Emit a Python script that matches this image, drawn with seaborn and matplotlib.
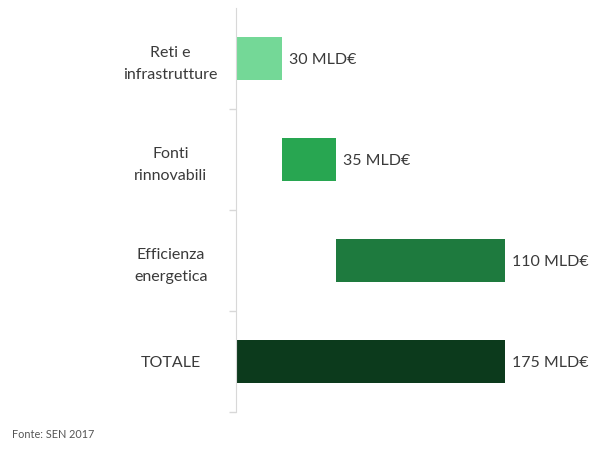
import numpy as np
import pandas as pd
import seaborn as sns
import matplotlib.pyplot as plt

# Dati (miliardi di euro)
categorie = ['Reti e\ninfrastrutture', 'Fonti\nrinnovabili', 'Efficienza\nenergetica', 'TOTALE']
valori = [30, 35, 110, 175]
etichette = ['30 MLD€', '35 MLD€', '110 MLD€', '175 MLD€']
colori = ['#74d897', '#28a651', '#1e7a3e', '#0c3a1c']

# inizio di ogni barra (cascata), il totale parte da zero
inizi = list(np.cumsum([0] + valori[:2])) + [0]

df = pd.DataFrame({'Categoria': categorie, 'Valore': valori, 'Inizio': inizi})

sns.set_style('white')
plt.rcParams['font.family'] = ['Lato', 'DejaVu Sans']

fig = plt.figure(figsize=(5.93, 4.54), dpi=100)
ax = fig.add_axes([0.398, 0.0925, 0.596, 0.89])

sns.barplot(data=df, x='Valore', y='Categoria', hue='Categoria', palette=colori,
            legend=False, width=0.42, saturation=1, ax=ax)

# sposta le barre per ottenere la cascata
for patch, start, val in zip(ax.patches, df['Inizio'], df['Valore']):
    patch.set_x(start)
    patch.set_width(val)
    patch.set_edgecolor('none')

for i, (start, val, lab) in enumerate(zip(df['Inizio'], df['Valore'], etichette)):
    ax.annotate(lab, xy=(start + val, i), xytext=(5, -1), textcoords='offset points',
                ha='left', va='center', fontsize=11.5, color='#3a3a3a')

ax.set_xlim(0, 230)
ax.set_ylim(3.5, -0.5)
ax.set_xlabel('')
ax.set_ylabel('')
ax.set_xticks([])
ax.tick_params(axis='y', length=0, pad=47, labelsize=11.5, labelcolor='#3a3a3a')
for t in ax.get_yticklabels():
    t.set_horizontalalignment('center')
    t.set_linespacing(1.75)

# tacche tra le categorie
ax.set_yticks([0.5, 1.5, 2.5, 3.5], minor=True)
ax.tick_params(axis='y', which='minor', left=True, length=5, color='#d8d8d8', width=1)

for s in ['top', 'right', 'bottom']:
    ax.spines[s].set_visible(False)
ax.spines['left'].set_color('#d8d8d8')

fig.text(0.02, 0.035, 'Fonte: SEN 2017', fontsize=7.8, color='#555555')

plt.savefig('out.png', dpi=100)
